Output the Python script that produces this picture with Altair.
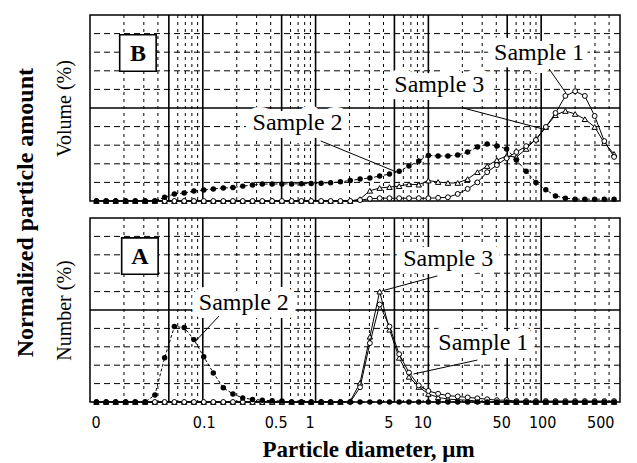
import altair as alt
import pandas as pd

# ---------------- data ----------------
diameters = [0.0114, 0.0139, 0.0169, 0.0207, 0.0252, 0.0308, 0.0376, 0.0459, 0.056, 0.0684,
             0.0835, 0.102, 0.124, 0.152, 0.185, 0.226, 0.276, 0.337, 0.412, 0.503,
             0.613, 0.749, 0.914, 1.12, 1.36, 1.66, 2.03, 2.48, 3.03, 3.7,
             4.52, 5.51, 6.73, 8.22, 10.0, 12.2, 14.9, 18.2, 22.3, 27.2,
             33.2, 40.5, 49.4, 60.3, 73.6, 89.9, 110, 134, 164, 200,
             244, 298, 363, 443]

# Volume distribution (panel B), in grid divisions
volume_sample1 = [0] * 27 + [0.05, 0.12,
                  0.15, 0.15, 0.15, 0.15, 0.15, 0.15, 0.17, 0.2, 0.38, 0.65,
                  1.0, 1.55, 1.93, 2.3, 2.63, 2.95, 3.28, 3.98, 4.73, 5.65,
                  5.9, 5.65, 4.57, 3.22, 2.37]
volume_sample2 = [0, 0, 0, 0, 0, 0, 0,
                  0.2, 0.38, 0.43, 0.54, 0.59, 0.65, 0.70, 0.72, 0.80, 0.86, 0.91,
                  0.91, 0.92, 0.92, 0.93, 0.94, 0.96, 0.98, 1.03, 1.1, 1.18, 1.24,
                  1.34, 1.45, 1.6, 1.88, 2.15, 2.45, 2.42, 2.42, 2.47, 2.63,
                  2.9, 3.06, 2.96, 2.8, 2.2, 1.6, 1.0, 0.6, 0.27, 0.15,
                  0.1, 0.1, 0.1, 0.1, 0.1]
volume_sample3 = [0] * 27 + [0.1, 0.55,
                  0.7, 0.75, 0.8, 0.9, 0.88, 1.1, 1.02, 0.97, 0.97, 1.18,
                  1.55, 1.88, 2.2, 2.42, 2.36, 2.8, 3.33, 3.98, 4.62, 4.84,
                  4.68, 4.4, 3.98, 3.12, 2.53]

# Number distribution (panel A), in grid divisions
number_sample1 = [0] * 27 + [0.8, 3.2,
                  5.3, 4.1, 2.6, 1.6, 0.9, 0.6, 0.45, 0.35, 0.3, 0.25,
                  0.2, 0.15, 0.1, 0.1, 0.05, 0.05, 0.05, 0.05, 0.05, 0.05,
                  0.05, 0.05, 0.05, 0.05, 0.05]
number_sample2 = [0, 0, 0, 0, 0, 0,
                  0.38, 2.4, 4.1, 4.05, 3.39, 2.46, 1.58, 0.77, 0.44, 0.22, 0.14,
                  0.1, 0.07, 0.05,
                  0, 0, 0, 0, 0, 0, 0, 0, 0] + [0] * 25
number_sample3 = [0] * 26 + [0.05, 1.04, 3.55,
                  6.0, 3.93, 2.4, 1.37, 0.82, 0.44, 0.25, 0.16, 0.12, 0.1,
                  0.05] + [0] * 14

tick_values = [0.01, 0.1, 0.5, 1, 5, 10, 50, 100, 500]
major_lines = [0.05, 0.1, 0.5, 1, 5, 10, 50, 100]
minor_lines = [0.02, 0.03, 0.04, 0.06, 0.07, 0.08, 0.09,
               0.2, 0.3, 0.4, 0.6, 0.7, 0.8, 0.9,
               2, 3, 4, 6, 7, 8, 9,
               20, 30, 40, 60, 70, 80, 90,
               200, 300, 400]
dashed_levels = [1, 2, 3, 4, 6, 7, 8, 9]
solid_levels = [5]

volume_label_text = ["Sample 1", "Sample 3", "Sample 2"]
volume_label_x = [95.9, 12.5, 0.693]
volume_label_y = [7.96, 6.24, 4.19]
volume_leader_x = [117.7, 20.4, 1.11]
volume_leader_y = [7.1, 5.0, 3.23]
volume_leader_x2 = [166, 104, 5.21]
volume_leader_y2 = [5.8, 3.87, 1.56]

number_label_text = ["Sample 3", "Sample 1", "Sample 2"]
number_label_x = [15.0, 30.7, 0.231]
number_label_y = [7.77, 3.21, 5.38]
number_leader_x = [12.0, 27.2, 0.139]
number_leader_y = [6.85, 2.28, 4.67]
number_leader_x2 = [3.84, 7.37, 0.0867]
number_leader_y2 = [6.03, 1.52, 3.32]

volume_tag = {"tag": ["B"], "x": [0.0266], "y": [7.96]}
number_tag = {"tag": ["A"], "x": [0.0277], "y": [7.93]}

# ---------------- styling ----------------
SERIF = "Liberation Serif"
NARROW = "Liberation Sans Narrow, DejaVu Sans Condensed, Liberation Sans"

x_scale = alt.Scale(type="log", domain=[0.01, 500], nice=False)
y_scale = alt.Scale(domain=[0, 10], nice=False)

x_axis_bottom = alt.Axis(
    values=tick_values,
    labelExpr="datum.value < 0.02 ? '0' : format(datum.value, '~g')",
    labelFont=NARROW, labelFontSize=16, labelColor="black",
    labelPadding=12,
    labelOffset={"condition": {"test": "datum.value > 0.2 && datum.value != 100", "value": -6},
                 "value": 1},
    ticks=False, domain=False, grid=False,
    title="Particle diameter, \u03bcm", titleFont=SERIF, titleFontSize=23,
    titleFontWeight="bold", titleColor="black", titlePadding=8, titleX=278,
)


def y_axis(title):
    return alt.Axis(title=title, labels=False, ticks=False, domain=False, grid=False,
                    titleFont=SERIF, titleFontSize=20, titleFontWeight="normal",
                    titleColor="black", titlePadding=16, minExtent=0)


def panel(series, lab_text, lab_x, lab_y, ld_x, ld_y, ld_x2, ld_y2, tag, ytitle, height, show_x):
    xa = x_axis_bottom if show_x else None
    ya = y_axis(ytitle)

    def X(f):
        return alt.X(f, type="quantitative", scale=x_scale, axis=xa)

    def Y(f):
        return alt.Y(f, type="quantitative", scale=y_scale, axis=ya)

    layers = []
    layers.append(alt.Chart(pd.DataFrame({"y": dashed_levels})).mark_rule(
        color="black", strokeWidth=1, strokeDash=[6, 4]).encode(y=Y("y")))
    layers.append(alt.Chart(pd.DataFrame({"y": solid_levels})).mark_rule(
        color="black", strokeWidth=1.5).encode(y=Y("y")))
    layers.append(alt.Chart(pd.DataFrame({"x": minor_lines})).mark_rule(
        color="black", strokeWidth=1, strokeDash=[3, 4]).encode(x=X("x")))
    layers.append(alt.Chart(pd.DataFrame({"x": major_lines})).mark_rule(
        color="black", strokeWidth=1.6).encode(x=X("x")))

    lab = pd.DataFrame({"text": lab_text, "x": lab_x, "y": lab_y})
    layers.append(alt.Chart(lab).mark_text(
        font=SERIF, fontSize=24, align="center", baseline="middle",
        fill="white", stroke="white", strokeWidth=16, strokeJoin="round").encode(
        x=X("x"), y=Y("y"), text="text:N"))
    layers.append(alt.Chart(lab).mark_text(
        font=SERIF, fontSize=24, align="center", baseline="middle", color="black").encode(
        x=X("x"), y=Y("y"), text="text:N"))

    ld = pd.DataFrame({"x": ld_x, "y": ld_y, "x2": ld_x2, "y2": ld_y2})
    layers.append(alt.Chart(ld).mark_rule(color="black", strokeWidth=1).encode(
        x=X("x"), y=Y("y"), x2="x2:Q", y2="y2:Q"))

    tg = pd.DataFrame(tag)
    layers.append(alt.Chart(tg).mark_point(
        shape="square", size=1330, filled=True, fill="white", stroke="black",
        strokeWidth=1.6, opacity=1).encode(x=X("x"), y=Y("y")))
    layers.append(alt.Chart(tg).mark_text(
        font=SERIF, fontSize=24, fontWeight="bold", align="center", baseline="middle",
        color="black", dy=1).encode(x=X("x"), y=Y("y"), text="tag:N"))

    for vals, name, kind in series:
        df = pd.DataFrame({"d": diameters, "v": vals, "sample": name})
        if kind == "filled":
            line = alt.Chart(df).mark_line(color="black", strokeWidth=1, strokeDash=[3, 2])
            pts = alt.Chart(df).mark_point(shape="circle", size=30, filled=True,
                                           color="black", opacity=1)
        elif kind == "circle":
            line = alt.Chart(df).mark_line(color="black", strokeWidth=1)
            pts = alt.Chart(df).mark_point(shape="circle", size=24, filled=True, fill="white",
                                           stroke="black", strokeWidth=1, opacity=1)
        else:
            line = alt.Chart(df).mark_line(color="black", strokeWidth=1)
            pts = alt.Chart(df).mark_point(shape="triangle-up", size=30, filled=True, fill="white",
                                           stroke="black", strokeWidth=1, opacity=1)
        layers.append(line.encode(x=X("d"), y=Y("v")))
        layers.append(pts.encode(x=X("d"), y=Y("v")))

    return alt.layer(*layers).properties(width=530, height=height)


top = panel([(volume_sample3, "Sample 3", "triangle"),
             (volume_sample1, "Sample 1", "circle"),
             (volume_sample2, "Sample 2", "filled")],
            volume_label_text, volume_label_x, volume_label_y,
            volume_leader_x, volume_leader_y, volume_leader_x2, volume_leader_y2,
            volume_tag, "Volume (%)", 186, False)

bottom = panel([(number_sample3, "Sample 3", "triangle"),
                (number_sample1, "Sample 1", "circle"),
                (number_sample2, "Sample 2", "filled")],
               number_label_text, number_label_x, number_label_y,
               number_leader_x, number_leader_y, number_leader_x2, number_leader_y2,
               number_tag, "Number (%)", 184, True)

chart = alt.vconcat(top, bottom, spacing=17, bounds="flush").properties(
    title=alt.TitleParams(text="Normalized particle amount", orient="left", anchor="middle",
                          font=SERIF, fontSize=24, fontWeight="bold", color="black",
                          offset=15, dx=25),
    padding={"left": 6, "top": 5, "right": 0, "bottom": 0},
    background="white",
).configure_view(stroke="black", strokeWidth=1.5)

chart.save("out.html", embed_options={"renderer": "svg", "actions": False})
